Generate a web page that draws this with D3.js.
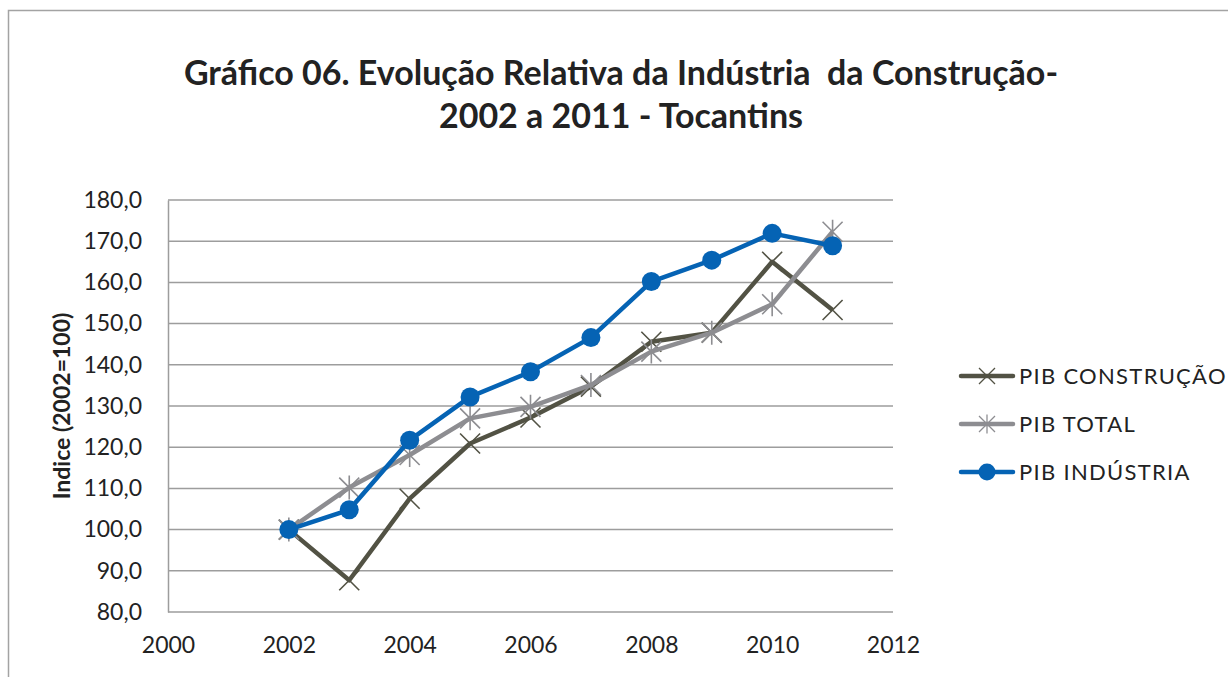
<!DOCTYPE html>
<html>
<head>
<meta charset="utf-8">
<script src="https://cdn.jsdelivr.net/npm/d3@7"></script>
<style>
  body { margin: 0; background: #fff; }
  svg { display: block; font-family: Lato, "Open Sans", sans-serif; }
</style>
</head>
<body>
<div id="chart"></div>
<script>
const w = 1228;
const h = 677;

// data
const years = [2002, 2003, 2004, 2005, 2006, 2007, 2008, 2009, 2010, 2011];
const pibConstrucao = [100, 87.7, 107.5, 120.9, 127.2, 134.7, 145.6, 147.8, 165.0, 153.3];
const pibTotal = [100, 110.2, 118.1, 127.0, 129.8, 135.1, 143.2, 147.8, 154.7, 172.3];
const pibIndustria = [100, 104.8, 121.7, 132.2, 138.3, 146.6, 160.2, 165.4, 171.9, 168.9];

const xTicks = [2000, 2002, 2004, 2006, 2008, 2010, 2012];
const yTicks = [80, 90, 100, 110, 120, 130, 140, 150, 160, 170, 180];

const seriesNames = ["PIB CONSTRUÇÃO", "PIB TOTAL", "PIB INDÚSTRIA"];
const seriesColors = ["#525244", "#8d8d91", "#0563b4"];
const seriesMarkers = ["x", "star", "circle"];
const seriesValues = [pibConstrucao, pibTotal, pibIndustria];

const svg = d3.select("#chart").append("svg").attr("width", w).attr("height", h);

// outer frame
svg.append("rect")
    .attr("x", 8.5).attr("y", 10.5)
    .attr("width", w + 20).attr("height", h + 20)
    .attr("fill", "none").attr("stroke", "#a3a3a3").attr("stroke-width", 1.5);

// title
const title = svg.append("text")
    .attr("text-anchor", "middle")
    .attr("font-weight", "bold")
    .attr("font-size", 34)
    .attr("fill", "#222")
    .style("white-space", "pre");
title.append("tspan").attr("x", 621).attr("y", 85).text("Gráfico 06. Evolução Relativa da Indústria  da Construção-");
title.append("tspan").attr("x", 621).attr("y", 128).text("2002 a 2011 - Tocantins");

const x = d3.scaleLinear().domain([2000, 2012]).range([168, 893]);
const y = d3.scaleLinear().domain([80, 180]).range([612, 200]);

// gridlines
svg.append("g")
    .selectAll("line")
    .data(yTicks)
    .enter().append("line")
    .attr("x1", x(2000)).attr("x2", x(2012))
    .attr("y1", d => y(d)).attr("y2", d => y(d))
    .attr("stroke", "#9d9d9d").attr("stroke-width", 1.5);

// y axis
const yAxis = svg.append("g")
    .attr("transform", "translate(" + x(2000) + ",0)")
    .call(d3.axisLeft(y).tickValues(yTicks).tickSize(0).tickPadding(26)
        .tickFormat(d => d3.format(".1f")(d).replace(".", ",")));
yAxis.select(".domain").attr("stroke", "#9d9d9d").attr("stroke-width", 1.5);
yAxis.selectAll("text").attr("font-size", 23).attr("fill", "#222").attr("font-family", "Lato");

// x axis
const xAxis = svg.append("g")
    .attr("transform", "translate(0," + y(80) + ")")
    .call(d3.axisBottom(x).tickValues(xTicks).tickSize(0).tickPadding(25).tickFormat(d3.format("d")));
xAxis.select(".domain").remove();
xAxis.selectAll("text").attr("font-size", 23).attr("fill", "#222").attr("font-family", "Lato");

// y axis title
svg.append("text")
    .attr("transform", "translate(70,406) rotate(-90)")
    .attr("text-anchor", "middle")
    .attr("font-weight", "bold")
    .attr("font-size", 23)
    .attr("fill", "#222")
    .text("Indice (2002=100)");

const line = d3.line().x((d, i) => x(years[i])).y(d => y(d));

function drawMarker(g, type, color) {
    if (type === "circle") {
        g.append("circle").attr("r", 9.5).attr("fill", color);
    } else if (type === "x") {
        g.append("path").attr("d", "M-10,-10L10,10M-10,10L10,-10")
            .attr("stroke", color).attr("stroke-width", 1.6).attr("fill", "none");
    } else {
        g.append("path").attr("d", "M-10,-10L10,10M-10,10L10,-10M0,-12L0,12")
            .attr("stroke", color).attr("stroke-width", 1.6).attr("fill", "none");
    }
}

seriesValues.forEach((vals, s) => {
    const grp = svg.append("g");
    grp.append("path")
        .datum(vals)
        .attr("d", line)
        .attr("fill", "none")
        .attr("stroke", seriesColors[s])
        .attr("stroke-width", 4.5)
        .attr("stroke-linejoin", "round");
    grp.selectAll("g.mk")
        .data(vals)
        .enter().append("g")
        .attr("class", "mk")
        .attr("transform", (d, i) => "translate(" + x(years[i]) + "," + y(d) + ")")
        .each(function () { drawMarker(d3.select(this), seriesMarkers[s], seriesColors[s]); });
});

// legend
const legend = svg.append("g");
seriesNames.forEach((name, s) => {
    const ly = 376 + s * 48;
    legend.append("line")
        .attr("x1", 961).attr("x2", 1013).attr("y1", ly).attr("y2", ly)
        .attr("stroke", seriesColors[s]).attr("stroke-width", 4.5).attr("stroke-linecap", "round");
    const mg = legend.append("g").attr("transform", "translate(987," + ly + ")");
    if (seriesMarkers[s] === "circle") {
        mg.append("circle").attr("r", 8.5).attr("fill", seriesColors[s]);
    } else {
        drawMarker(mg, seriesMarkers[s], seriesColors[s]);
        mg.selectAll("path").attr("transform", "scale(0.8)");
    }
    legend.append("text")
        .attr("x", 1019).attr("y", ly + 8)
        .attr("font-size", 22)
        .attr("letter-spacing", 1.3)
        .attr("fill", "#222")
        .text(name);
});
</script>
</body>
</html>
